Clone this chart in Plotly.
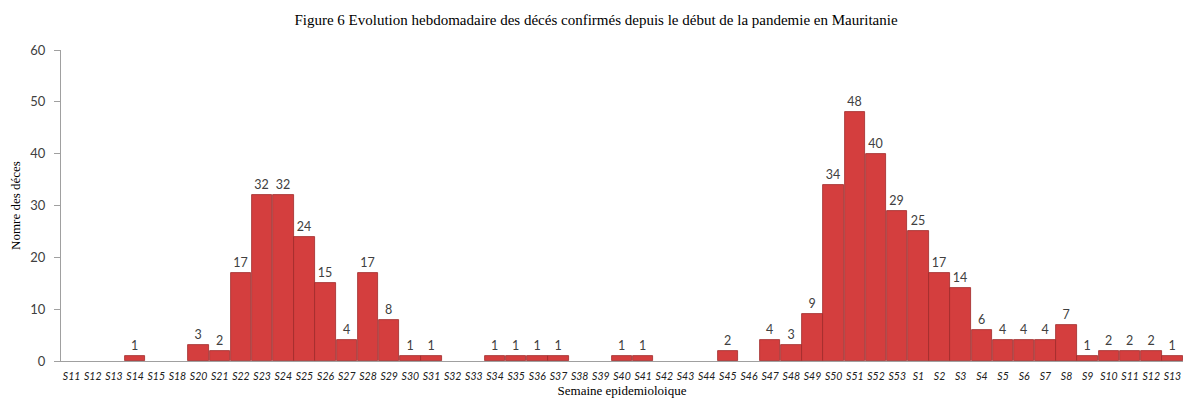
import plotly.graph_objects as go

weeks = ["S11", "S12", "S13", "S14", "S15", "S18", "S20", "S21", "S22", "S23", "S24", "S25",
         "S26", "S27", "S28", "S29", "S30", "S31", "S32", "S33", "S34", "S35", "S36", "S37",
         "S38", "S39", "S40", "S41", "S42", "S43", "S44", "S45", "S46", "S47", "S48", "S49",
         "S50", "S51", "S52", "S53", "S1", "S2", "S3", "S4", "S5", "S6", "S7", "S8", "S9",
         "S10", "S11", "S12", "S13"]
deaths = [0, 0, 0, 1, 0, 0, 3, 2, 17, 32, 32, 24,
          15, 4, 17, 8, 1, 1, 0, 0, 1, 1, 1, 1,
          0, 0, 1, 1, 0, 0, 0, 2, 0, 4, 3, 9,
          34, 48, 40, 29, 25, 17, 14, 6, 4, 4, 4, 7, 1,
          2, 2, 2, 1]

pos = list(range(len(weeks)))
labels = [str(v) if v > 0 else "" for v in deaths]
line_w = [0.8 if v > 0 else 0 for v in deaths]

fig = go.Figure()
fig.add_trace(go.Bar(
    x=pos, y=deaths,
    marker=dict(color="#D43E3E", line=dict(color="#9E2A2A", width=line_w)),
    text=labels, textposition="outside", cliponaxis=False,
    textfont=dict(family="Lato, Carlito, sans-serif", size=12.5, color="#404040"),
    width=0.97,
))

# the page body keeps an 8px default margin, so the figure is sized to fit inside the window
fig.update_layout(
    width=1176, height=390,
    margin=dict(l=49, r=1, t=42, b=37),
    paper_bgcolor="white", plot_bgcolor="white",
    showlegend=False,
    title=dict(text="Figure 6 Evolution hebdomadaire des décés confirmés depuis le début de la pandemie en Mauritanie",
               x=0.5, xanchor="center", yref="container", y=0.969, yanchor="middle",
               font=dict(family="Liberation Serif, Times New Roman, serif", size=15, color="#000000")),
    bargap=0.0,
)
fig.update_xaxes(
    tickmode="array", tickvals=pos, ticktext=[f"<i>{w}</i>" for w in weeks],
    range=[-0.5, len(weeks) - 0.5],
    showline=True, linecolor="#A0A0A0", linewidth=1,
    ticks="", showgrid=False, zeroline=False,
    tickangle=0, ticklabelstandoff=5,
    tickfont=dict(family="Lato, Carlito, sans-serif", size=10.5, color="#202020"),
    title=dict(text="Semaine epidemioloique", standoff=5,
               font=dict(family="Liberation Serif, Times New Roman, serif", size=13, color="#000000")),
)
fig.update_yaxes(
    range=[0, 60], dtick=10,
    showline=True, linecolor="#A0A0A0", linewidth=1,
    ticks="outside", ticklen=6, tickcolor="#A0A0A0",
    ticklabelstandoff=6,
    showgrid=False, zeroline=False,
    tickfont=dict(family="Lato, Carlito, sans-serif", size=13, color="#404040"),
    title=dict(text="Nomre des déces", standoff=12,
               font=dict(family="Liberation Serif, Times New Roman, serif", size=13, color="#000000")),
)

fig.write_html("out.html")
